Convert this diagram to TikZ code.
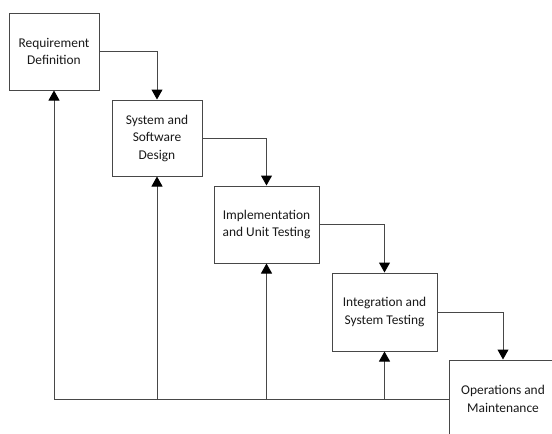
\documentclass[tikz,border=0pt]{standalone}
\usepackage{fontspec}
\setmainfont{Carlito}
\usetikzlibrary{arrows.meta}
\begin{document}
\begin{tikzpicture}[x=1pt,y=-1pt,
  phase/.style={draw=black!72, line width=1pt, fill=white, align=center, inner sep=2pt,
    font=\fontsize{13.4}{17.5}\selectfont, text=black!90},
  arr/.style={draw=black!72, line width=1pt, -{Triangle[width=11pt,length=10pt,color=black]}}]
\path[use as bounding box, clip] (0,0) rectangle (552,434);
\node[phase, minimum width=90pt, minimum height=77pt] (b1) at (54,51.5) {Requirement\\Definition};
\node[phase, minimum width=90pt, minimum height=76pt] (b2) at (157,138) {System and\\Software\\Design};
\node[phase, minimum width=105pt, minimum height=77pt] (b3) at (266.5,224.5) {Implementation\\and Unit Testing};
\node[phase, minimum width=105pt, minimum height=78pt] (b4) at (384.5,312) {Integration and\\System Testing};
\node[phase, minimum width=108pt, minimum height=78pt] (b5) at (503,399) {Operations and\\Maintenance};
\draw[arr] (b1.east) -| (b2.north);
\draw[arr] (b2.east) -| (b3.north);
\draw[arr] (b3.east) -| (b4.north);
\draw[arr] (b4.east) -| (b5.north);
\draw[arr] (b5.west) -| (b1.south);
\draw[arr] (b2.south |- b5.west) -- (b2.south);
\draw[arr] (b3.south |- b5.west) -- (b3.south);
\draw[arr] (b4.south |- b5.west) -- (b4.south);
\end{tikzpicture}
\end{document}
